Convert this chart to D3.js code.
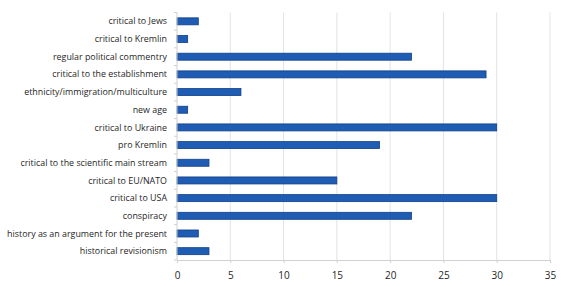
<!DOCTYPE html>
<html>
<head>
<meta charset="utf-8">
<script src="https://cdn.jsdelivr.net/npm/d3@7"></script>
<style>
  body { margin: 0; background: #fff; }
  text { font-family: "Open Sans", "Liberation Sans", sans-serif; fill: #262626; }
</style>
</head>
<body>
<div id="chart"></div>
<script>
const categories = [
  "critical to Jews",
  "critical to Kremlin",
  "regular political commentry",
  "critical to the establishment",
  "ethnicity/immigration/multiculture",
  "new age",
  "critical to Ukraine",
  "pro Kremlin",
  "critical to the scientific main stream",
  "critical to EU/NATO",
  "critical to USA",
  "conspiracy",
  "history as an argument for the present",
  "historical revisionism"
];
const values = [2, 1, 22, 29, 6, 1, 30, 19, 3, 15, 30, 22, 2, 3];
const xTicks = [0, 5, 10, 15, 20, 25, 30, 35];

const width = 569;
const height = 287;
const marginLeft = 177;
const marginRight = 19;
const marginTop = 12.5;
const marginBottom = 27;

const data = categories.map((c, i) => ({ category: c, value: values[i] }));

const x = d3.scaleLinear().domain([0, 35]).range([marginLeft, width - marginRight]);
const y = d3.scaleBand()
  .domain(categories)
  .range([marginTop, height - marginBottom])
  .paddingInner(0.6)
  .paddingOuter(0.3);

const svg = d3.select("#chart").append("svg")
  .attr("width", width)
  .attr("height", height)
  .attr("viewBox", [0, 0, width, height]);

// vertical gridlines
svg.append("g")
  .selectAll("line")
  .data(xTicks.slice(1))
  .join("line")
  .attr("x1", d => x(d))
  .attr("x2", d => x(d))
  .attr("y1", marginTop)
  .attr("y2", height - marginBottom)
  .attr("stroke", "#e3e3e3")
  .attr("stroke-width", 1);

// bars
svg.append("g")
  .selectAll("rect")
  .data(data)
  .join("rect")
  .attr("x", x(0))
  .attr("y", d => y(d.category) + y.bandwidth() / 2 - 3.5)
  .attr("width", d => x(d.value) - x(0))
  .attr("height", 7)
  .attr("fill", "#1f5cb4")
  .attr("stroke", "#123f85")
  .attr("stroke-width", 0.8);

// x axis
const xAxis = svg.append("g")
  .attr("transform", `translate(0,${height - marginBottom})`)
  .call(d3.axisBottom(x).tickValues(xTicks).tickSize(3).tickPadding(9));
xAxis.select(".domain").attr("stroke", "#d0d0d0");
xAxis.selectAll(".tick line").attr("stroke", "#d0d0d0");
xAxis.selectAll("text").attr("font-size", 10).attr("fill", "#262626");

// y axis
const yAxisG = svg.append("g").attr("transform", `translate(${marginLeft},0)`);
yAxisG.append("line")
  .attr("x1", 0).attr("x2", 0)
  .attr("y1", marginTop).attr("y2", height - marginBottom)
  .attr("stroke", "#d0d0d0");
yAxisG.selectAll("line.tk")
  .data(d3.range(categories.length + 1))
  .join("line")
  .attr("class", "tk")
  .attr("x1", -3).attr("x2", 0)
  .attr("y1", i => marginTop + i * (height - marginBottom - marginTop) / categories.length)
  .attr("y2", i => marginTop + i * (height - marginBottom - marginTop) / categories.length)
  .attr("stroke", "#d0d0d0");
yAxisG.selectAll("text")
  .data(categories)
  .join("text")
  .attr("x", -10)
  .attr("y", d => y(d) + y.bandwidth() / 2)
  .attr("dy", "0.35em")
  .attr("text-anchor", "end")
  .attr("font-size", 8.9)
  .text(d => d);
</script>
</body>
</html>
